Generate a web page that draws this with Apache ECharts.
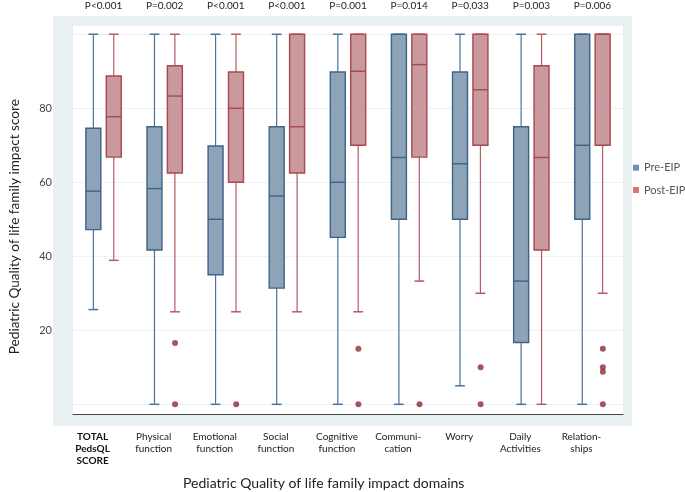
<!DOCTYPE html>
<html>
<head>
<meta charset="utf-8">
<script src="https://cdn.jsdelivr.net/npm/echarts@6/dist/echarts.min.js"></script>
<style>html,body{margin:0;padding:0;background:#fff;}#c{width:685px;height:492px;}</style>
</head>
<body>
<div id="c"></div>
<script>
// Categories (domains)
const categories = ['TOTAL\nPedsQL\nSCORE', 'Physical\nfunction', 'Emotional\nfunction', 'Social\nfunction',
  'Cognitive\nfunction', 'Communi-\ncation', 'Worry', 'Daily\nActivities', 'Relation-\nships'];
const pValues = ['P<0.001', 'P=0.002', 'P<0.001', 'P<0.001', 'P=0.001', 'P=0.014', 'P=0.033', 'P=0.003', 'P=0.006'];
// [min, Q1, median, Q3, max]
const preEIP = [
  [25.6, 47.2, 57.6, 74.6, 100],
  [0, 41.7, 58.3, 75, 100],
  [0, 35, 50, 69.8, 100],
  [0, 31.4, 56.3, 75, 100],
  [0, 45.1, 60, 89.8, 100],
  [0, 50, 66.7, 100, 100],
  [5, 50, 65, 89.8, 100],
  [0, 16.7, 33.3, 75, 100],
  [0, 50, 70, 100, 100]
];
const postEIP = [
  [38.9, 66.8, 77.7, 88.7, 100],
  [25, 62.5, 83.3, 91.5, 100],
  [25, 60, 80, 89.8, 100],
  [25, 62.5, 75, 100, 100],
  [25, 70, 90, 100, 100],
  [33.3, 66.8, 91.8, 100, 100],
  [30, 70, 85, 100, 100],
  [0, 41.7, 66.7, 91.5, 100],
  [30, 70, 100, 100, 100]
];
// Post-EIP outliers: [category index, value]
const postOutliers = [
  [1, 16.6], [1, 0],
  [2, 0],
  [4, 15], [4, 0],
  [5, 0],
  [6, 10], [6, 0],
  [8, 15], [8, 10], [8, 8.8], [8, 0]
];
const yTickLabels = [20, 40, 60, 80];

const OFF = 0.167, BOXW = 0.245, CAPW = 0.16;
function makeRender(sign, fill, stroke, whisker) {
  return function (params, api) {
    const idx = api.value(0);
    const band = api.size([1, 0])[0];
    const p = [1, 2, 3, 4, 5].map(function (i) { return api.coord([idx, api.value(i)]); });
    const cx = p[0][0] + sign * band * OFF;
    const w = band * BOXW, cw = band * CAPW;
    const yMin = p[0][1], yQ1 = p[1][1], yMed = p[2][1], yQ3 = p[3][1], yMax = p[4][1];
    return {
      type: 'group',
      children: [
        { type: 'line', shape: { x1: cx, y1: yMax, x2: cx, y2: yQ3 }, style: { stroke: whisker, lineWidth: 1.2 } },
        { type: 'line', shape: { x1: cx, y1: yQ1, x2: cx, y2: yMin }, style: { stroke: whisker, lineWidth: 1.2 } },
        { type: 'line', shape: { x1: cx - cw / 2, y1: yMax, x2: cx + cw / 2, y2: yMax }, style: { stroke: whisker, lineWidth: 1.5 } },
        { type: 'line', shape: { x1: cx - cw / 2, y1: yMin, x2: cx + cw / 2, y2: yMin }, style: { stroke: whisker, lineWidth: 1.5 } },
        { type: 'rect', shape: { x: cx - w / 2, y: yQ3, width: w, height: yQ1 - yQ3 }, style: { fill: fill, stroke: stroke, lineWidth: 1.4 } },
        { type: 'line', shape: { x1: cx - w / 2, y1: yMed, x2: cx + w / 2, y2: yMed }, style: { stroke: stroke, lineWidth: 1.4 } }
      ]
    };
  };
}

const chart = echarts.init(document.getElementById('c'), null, { renderer: 'canvas' });
const FONT = 'Lato';
chart.setOption({
  backgroundColor: '#ffffff',
  animation: false,
  textStyle: { fontFamily: FONT },
  graphic: [{
    type: 'rect', z: -10, silent: true,
    shape: { x: 53, y: 16, width: 579, height: 410 },
    style: { fill: '#E9F0F2' }
  }],
  title: {
    text: 'Pediatric Quality of life family impact domains',
    left: 183, top: 476, padding: 0,
    textStyle: { fontFamily: FONT, fontSize: 14, fontWeight: 'normal', color: '#222', lineHeight: 15 }
  },
  legend: {
    data: ['Pre-EIP', 'Post-EIP'],
    orient: 'vertical', left: 633, top: 160.7, padding: 0,
    itemWidth: 6, itemHeight: 6, itemGap: 8.3, icon: 'rect',
    textStyle: { fontFamily: FONT, fontSize: 11, lineHeight: 14, color: '#555' }
  },
  grid: {
    left: 62.7, right: 62, top: 25, bottom: 77.7,
    show: true, backgroundColor: '#ffffff', borderWidth: 0
  },
  xAxis: [{
    type: 'category', data: categories, position: 'bottom',
    axisLine: { show: true, onZero: false, lineStyle: { color: '#444', width: 1 } },
    axisTick: { show: false },
    splitLine: { show: false },
    axisLabel: {
      interval: 0, margin: 17, fontSize: 10, lineHeight: 11.7, color: '#222',
      padding: [0, 22, 0, 0],
      formatter: function (v, i) { return i === 0 ? '{b|' + v + '}' : v; },
      rich: { b: { fontWeight: 'bold', fontSize: 10, lineHeight: 11.7, color: '#111', fontFamily: FONT } }
    }
  }, {
    type: 'category', data: categories, position: 'top',
    axisLine: { show: false }, axisTick: { show: false }, splitLine: { show: false },
    axisLabel: {
      interval: 0, margin: 14, fontSize: 10, color: '#222',
      formatter: function (v, i) { return pValues[i]; }
    }
  }],
  yAxis: {
    type: 'value', min: -2.7, max: 102.5, splitNumber: 5,
    name: 'Pediatric Quality of life family impact score',
    nameLocation: 'middle', nameGap: 51, nameRotate: 90,
    nameTextStyle: { fontFamily: FONT, fontSize: 13.6, color: '#222', padding: [0, 14, 0, 0] },
    axisLine: { show: false }, axisTick: { show: false },
    axisLabel: {
      margin: 21, fontSize: 11, color: '#444',
      formatter: function (v) { return yTickLabels.indexOf(v) >= 0 ? String(v) : ''; }
    },
    splitLine: { show: true, lineStyle: { color: '#EDF2F4', width: 1 } }
  },
  series: [{
    name: 'Pre-EIP', type: 'custom', xAxisIndex: 0,
    itemStyle: { color: '#6E8FB7' },
    renderItem: makeRender(-1, '#8CA3B8', '#3F6287', '#4F7298'),
    encode: { x: 0, y: [1, 2, 3, 4, 5] },
    data: preEIP.map(function (d, i) { return [i].concat(d); })
  }, {
    name: 'Post-EIP', type: 'custom', xAxisIndex: 0,
    itemStyle: { color: '#D6786F' },
    renderItem: makeRender(1, '#C9999D', '#A9474F', '#B85A63'),
    encode: { x: 0, y: [1, 2, 3, 4, 5] },
    data: postEIP.map(function (d, i) { return [i].concat(d); })
  }, {
    name: 'outliers', type: 'scatter', xAxisIndex: 0,
    symbol: 'circle', symbolSize: 6, symbolOffset: [10.4, 0],
    itemStyle: { color: '#8E2A33' },
    data: postOutliers
  }]
});
</script>
</body>
</html>
